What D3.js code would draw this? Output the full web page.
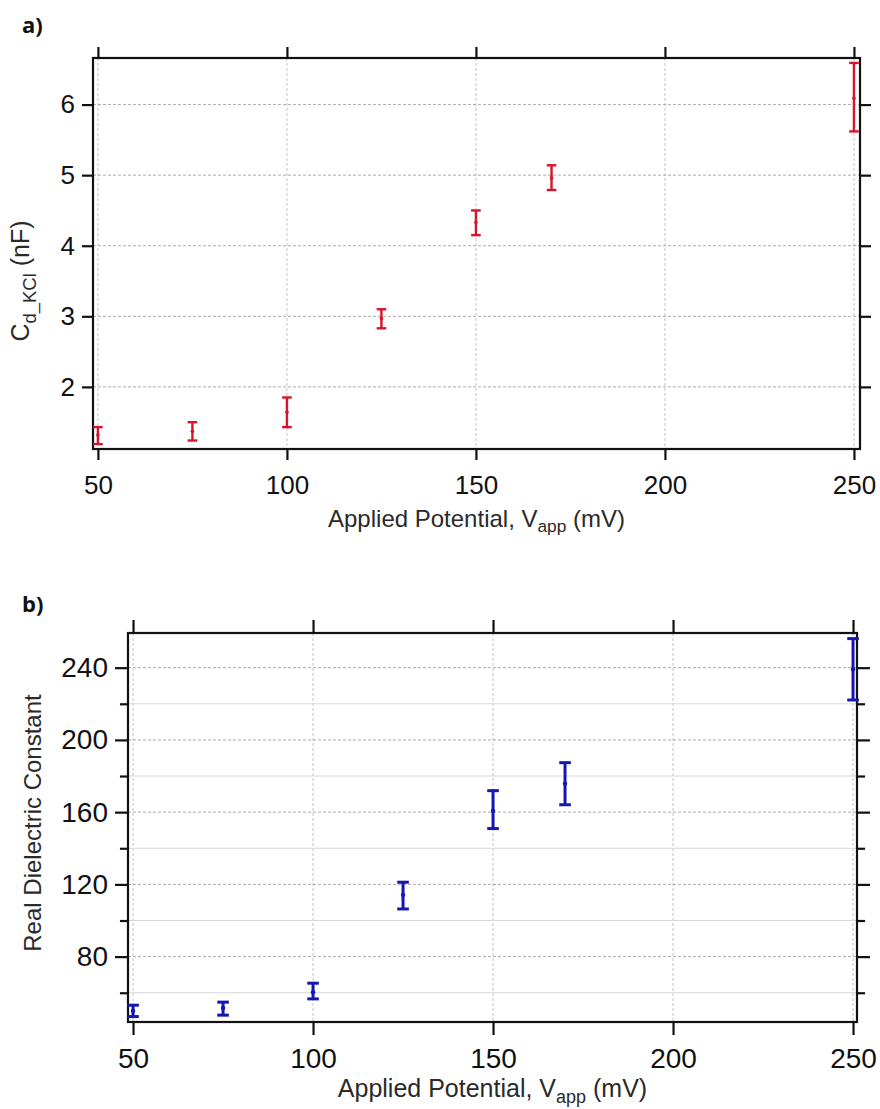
<!DOCTYPE html>
<html>
<head>
<meta charset="utf-8">
<script src="https://cdn.jsdelivr.net/npm/d3@7"></script>
<style>
  html, body { margin: 0; padding: 0; background: #fff; }
  svg { display: block; font-family: "Liberation Sans", Arial, sans-serif; }
</style>
</head>
<body>
<svg id="chart" width="880" height="1109"></svg>
<script>
// Applied potential (mV)
const potentials = [50, 75, 100, 125, 150, 170, 250];

// Panel a: double-layer capacitance in KCl (nF), mean and error-bar limits
const capMean = [1.32, 1.37, 1.64, 2.97, 4.33, 4.96, 6.09];
const capLow  = [1.19, 1.24, 1.43, 2.83, 4.15, 4.79, 5.62];
const capHigh = [1.43, 1.50, 1.85, 3.10, 4.50, 5.14, 6.59];

// Panel b: real dielectric constant, mean and error-bar limits
const dielMean = [49.9, 51.6, 60.3, 114.2, 160.8, 175.8, 239.1];
const dielLow  = [46.8, 47.6, 56.6, 106.4, 150.9, 164.1, 222.1];
const dielHigh = [53.1, 54.8, 65.3, 121.2, 171.9, 187.4, 256.1];

const xTicks = [50, 100, 150, 200, 250];
const capTicks = [2, 3, 4, 5, 6];
const dielTicks = [80, 120, 160, 200, 240];
const dielMinorTicks = [60, 100, 140, 180, 220];

const svg = d3.select("#chart");

function panel(cfg) {
  const g = svg.append("g");
  const x = d3.scaleLinear().domain(cfg.xDomain).range([cfg.left, cfg.right]);
  const y = d3.scaleLinear().domain(cfg.yDomain).range([cfg.bottom, cfg.top]);

  // grid lines
  const grid = g.append("g");
  grid.selectAll("line.vx").data(xTicks).join("line")
    .attr("x1", d => x(d)).attr("x2", d => x(d))
    .attr("y1", cfg.top).attr("y2", cfg.bottom)
    .attr("stroke", "#c4c4c4").attr("stroke-width", 1)
    .attr("stroke-dasharray", "3,2");
  grid.selectAll("line.hy").data(cfg.yTicks).join("line")
    .attr("x1", cfg.left).attr("x2", cfg.right)
    .attr("y1", d => y(d)).attr("y2", d => y(d))
    .attr("stroke", "#ababab").attr("stroke-width", 1)
    .attr("stroke-dasharray", "3,2");
  if (cfg.yMinor) {
    grid.selectAll("line.hm").data(cfg.yMinor).join("line")
      .attr("x1", cfg.left).attr("x2", cfg.right)
      .attr("y1", d => y(d)).attr("y2", d => y(d))
      .attr("stroke", "#d8d8d8").attr("stroke-width", 1);
  }

  // axes: bottom, top, left, right with outward ticks
  const axisStyle = sel => {
    sel.select(".domain").remove();
    sel.selectAll(".tick line").attr("stroke", "#111").attr("stroke-width", 2.2);
    sel.selectAll(".tick text").attr("fill", "#111").style("font-size", cfg.tickFont + "px");
  };
  g.append("g").attr("transform", `translate(0,${cfg.bottom})`)
    .call(d3.axisBottom(x).tickValues(xTicks).tickSize(cfg.tickLen).tickPadding(cfg.xPad).tickFormat(d3.format("d")))
    .call(axisStyle);
  g.append("g").attr("transform", `translate(0,${cfg.top})`)
    .call(d3.axisTop(x).tickValues(xTicks).tickSize(cfg.tickLen).tickFormat(""))
    .call(axisStyle);
  g.append("g").attr("transform", `translate(${cfg.left},0)`)
    .call(d3.axisLeft(y).tickValues(cfg.yTicks).tickSize(cfg.tickLen).tickPadding(7).tickFormat(d3.format("d")))
    .call(axisStyle);
  g.append("g").attr("transform", `translate(${cfg.right},0)`)
    .call(d3.axisRight(y).tickValues(cfg.yTicks).tickSize(cfg.tickLen).tickFormat(""))
    .call(axisStyle);
  if (cfg.yMinor) {
    g.append("g").attr("transform", `translate(${cfg.left},0)`)
      .call(d3.axisLeft(y).tickValues(cfg.yMinor).tickSize(cfg.tickLen * 0.62).tickFormat(""))
      .call(axisStyle);
    g.append("g").attr("transform", `translate(${cfg.right},0)`)
      .call(d3.axisRight(y).tickValues(cfg.yMinor).tickSize(cfg.tickLen * 0.62).tickFormat(""))
      .call(axisStyle);
  }

  // frame
  g.append("rect")
    .attr("x", cfg.left).attr("y", cfg.top)
    .attr("width", cfg.right - cfg.left).attr("height", cfg.bottom - cfg.top)
    .attr("fill", "none").attr("stroke", "#111").attr("stroke-width", 2.2);

  // error bars
  const pts = potentials.map((p, i) => ({ p, m: cfg.mean[i], lo: cfg.low[i], hi: cfg.high[i] }));
  const eb = g.append("g").attr("stroke", cfg.color).attr("stroke-width", cfg.barWidth);
  eb.selectAll("line.v").data(pts).join("line")
    .attr("x1", d => x(d.p)).attr("x2", d => x(d.p))
    .attr("y1", d => y(d.lo)).attr("y2", d => y(d.hi));
  eb.selectAll("line.t").data(pts).join("line")
    .attr("x1", d => x(d.p) - cfg.cap).attr("x2", d => x(d.p) + cfg.cap)
    .attr("y1", d => y(d.hi)).attr("y2", d => y(d.hi));
  eb.selectAll("line.b").data(pts).join("line")
    .attr("x1", d => x(d.p) - cfg.cap).attr("x2", d => x(d.p) + cfg.cap)
    .attr("y1", d => y(d.lo)).attr("y2", d => y(d.lo));
  g.append("g").selectAll("circle").data(pts).join("circle")
    .attr("cx", d => x(d.p)).attr("cy", d => y(d.m)).attr("r", cfg.dot)
    .attr("fill", cfg.color);

  // panel letter
  g.append("text").attr("x", cfg.letterX).attr("y", cfg.letterY)
    .attr("font-family", "'Open Sans', 'Liberation Sans', sans-serif")
    .attr("font-weight", "bold").attr("font-size", 22).attr("fill", "#111")
    .text(cfg.letter);

  // x-axis title
  const xt = g.append("text")
    .attr("x", (cfg.left + cfg.right) / 2).attr("y", cfg.xTitleY)
    .attr("text-anchor", "middle").attr("fill", "#2a2a2a")
    .attr("font-size", cfg.titleFont);
  xt.append("tspan").text("Applied Potential, V");
  xt.append("tspan").attr("dy", cfg.titleFont * 0.22).attr("font-size", cfg.titleFont * 0.72).text("app");
  xt.append("tspan").attr("dy", -cfg.titleFont * 0.22).text(" (mV)");

  return { g, x, y };
}

// Panel a
const a = panel({
  left: 93, right: 860, top: 58, bottom: 449,
  xDomain: [48.7, 251.6], yDomain: [1.12, 6.66],
  yTicks: capTicks, mean: capMean, low: capLow, high: capHigh,
  color: "#d4152b", barWidth: 2.4, cap: 4.8, dot: 1.8,
  tickLen: 11, xPad: 16, tickFont: 26, titleFont: 24,
  letter: "a)", letterX: 22, letterY: 33, xTitleY: 527
});
const ya = a.g.append("text")
  .attr("transform", "translate(29,281) rotate(-90)")
  .attr("text-anchor", "middle").attr("fill", "#2a2a2a").attr("font-size", 25);
ya.append("tspan").text("C");
ya.append("tspan").attr("dy", 7).attr("font-size", 18.5).text("d_KCl");
ya.append("tspan").attr("dy", -7).text(" (nF)");

// Panel b
const b = panel({
  left: 128, right: 857, top: 633, bottom: 1022,
  xDomain: [48.6, 251.1], yDomain: [43.8, 259.2],
  yTicks: dielTicks, yMinor: dielMinorTicks,
  mean: dielMean, low: dielLow, high: dielHigh,
  color: "#1616b0", barWidth: 3, cap: 5.8, dot: 2.2,
  tickLen: 13, xPad: 13, tickFont: 28, titleFont: 25,
  letter: "b)", letterX: 22, letterY: 612, xTitleY: 1097
});
b.g.append("text")
  .attr("transform", "translate(41,823) rotate(-90)")
  .attr("text-anchor", "middle").attr("fill", "#2a2a2a").attr("font-size", 24)
  .text("Real Dielectric Constant");
</script>
</body>
</html>
